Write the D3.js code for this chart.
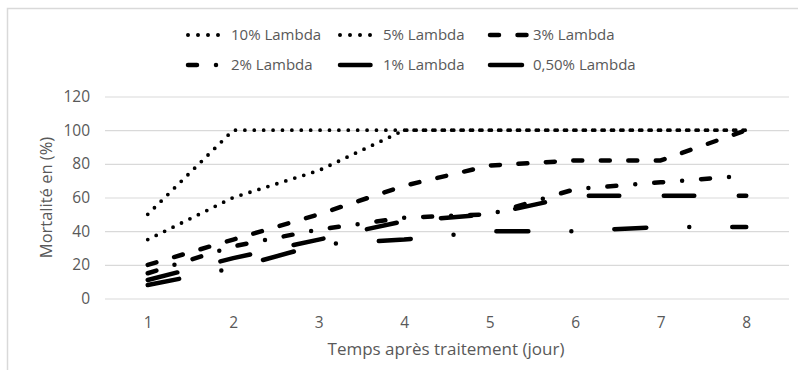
<!DOCTYPE html>
<html lang="fr">
<head>
<meta charset="utf-8">
<script src="https://cdn.jsdelivr.net/npm/d3@7"></script>
<style>
  html, body { margin: 0; padding: 0; background: #fff; }
  svg { display: block; font-family: "Open Sans", "Noto Sans", sans-serif; }
  .tick text { fill: #595959; }
</style>
</head>
<body>
<svg id="chart" width="798" height="370"></svg>
<script>
// Jours après traitement
const days = [1, 2, 3, 4, 5, 6, 7, 8];

// Mortalité (%) par concentration
const lambda10 = [50, 100, 100, 100, 100, 100, 100, 100];
const lambda5  = [35, 60, 76, 100, 100, 100, 100, 100];
const lambda3  = [20, 35, 50, 67, 79, 82, 82, 100];
const lambda2  = [15, 31, 41, 48, 50, 65, 69, 73];
const lambda1  = [11, 24, 35, 46, 50, 61, 61, 61];
const lambda05 = [8, 18, 32, 35, 40, 40, 42.5, 42.5];

const seriesNames = ["10% Lambda", "5% Lambda", "3% Lambda", "2% Lambda", "1% Lambda", "0,50% Lambda"];
const seriesValues = [lambda10, lambda5, lambda3, lambda2, lambda1, lambda05];

const yTicks = [0, 20, 40, 60, 80, 100, 120];
const xTitle = "Temps après traitement (jour)";
const yTitle = "Mortalité en (%)";

// Trait de chaque série : épaisseur et pointillés
const strokeStyles = [
  { width: 3.8, dash: "0 9.4" },          // pointillé rond
  { width: 3.8, dash: "0 9.4" },          // pointillé rond
  { width: 4.5, dash: "9 18.5" },         // tiret
  { width: 4.5, dash: "9 19 0 19" },      // tiret-point
  { width: 4.5, dash: "30.5 44.5" },      // tiret long
  { width: 4.5, dash: "32 43 0 43" }      // tiret long-point
];

const svg = d3.select("#chart");
const W = 798, H = 370;
const plot = { left: 105, right: 789, top: 96.5, bottom: 298.5 };

// Cadre de la zone du graphique
svg.append("path")
  .attr("d", `M7.5,${H} V8.5 H${W}`)
  .attr("fill", "none")
  .attr("stroke", "#d9d9d9")
  .attr("stroke-width", 1.5);

const x = d3.scalePoint().domain(days).range([plot.left, plot.right]).padding(0.5);
const y = d3.scaleLinear().domain([0, 120]).range([plot.bottom, plot.top]);

// Quadrillage horizontal
svg.append("g")
  .attr("transform", `translate(${plot.left},0)`)
  .call(d3.axisLeft(y).tickValues(yTicks).tickSize(-(plot.right - plot.left)).tickFormat(""))
  .call(g => g.select(".domain").remove())
  .call(g => g.selectAll(".tick line").attr("stroke", "#d9d9d9").attr("stroke-width", 1.2));

// Étiquettes de l'axe des ordonnées
svg.append("g")
  .attr("transform", `translate(${plot.left - 15},0)`)
  .call(d3.axisLeft(y).tickValues(yTicks).tickSize(0).tickPadding(0))
  .call(g => g.select(".domain").remove())
  .call(g => g.selectAll(".tick text").attr("font-size", 15.5).attr("font-family", "Open Sans"));

// Étiquettes de l'axe des abscisses
svg.append("g")
  .attr("transform", `translate(0,${plot.bottom})`)
  .call(d3.axisBottom(x).tickSize(0).tickPadding(0))
  .call(g => g.select(".domain").remove())
  .call(g => g.selectAll(".tick text")
    .attr("font-size", 15.5).attr("font-family", "Open Sans")
    .attr("dy", null).attr("y", 29));

// Titres des axes
svg.append("text")
  .attr("x", 446)
  .attr("y", 355)
  .attr("text-anchor", "middle")
  .attr("fill", "#595959")
  .attr("font-size", 17)
  .text(xTitle);

svg.append("text")
  .attr("transform", `translate(52,${(plot.top + plot.bottom) / 2}) rotate(-90)`)
  .attr("text-anchor", "middle")
  .attr("fill", "#595959")
  .attr("font-size", 16.5)
  .text(yTitle);

// Courbes
const line = d3.line()
  .x((d, i) => x(days[i]))
  .y(d => y(d));

svg.append("g")
  .selectAll("path")
  .data(seriesValues)
  .join("path")
  .attr("d", line)
  .attr("fill", "none")
  .attr("stroke", "#000")
  .attr("stroke-width", (d, i) => strokeStyles[i].width)
  .attr("stroke-dasharray", (d, i) => strokeStyles[i].dash)
  .attr("stroke-linecap", "round")
  .attr("stroke-linejoin", "round");

// Légende : deux rangées de trois
const legendCols = [188, 340, 490];
const legendRows = [35, 65];
const legend = svg.append("g")
  .selectAll("g")
  .data(seriesNames)
  .join("g")
  .attr("transform", (d, i) => `translate(${legendCols[i % 3]},${legendRows[Math.floor(i / 3)]})`);

legend.append("line")
  .attr("x1", 0).attr("x2", (d, i) => (i < 2 ? 31 : 38))
  .attr("y1", 0).attr("y2", 0)
  .attr("stroke", "#000")
  .attr("stroke-width", (d, i) => (i < 2 ? 4 : strokeStyles[i].width))
  .attr("stroke-dasharray", (d, i) => (i < 2 ? "0 10" : strokeStyles[i].dash))
  .attr("stroke-linecap", "round");

legend.append("text")
  .attr("x", 43)
  .attr("y", 0)
  .attr("dy", "0.35em")
  .attr("fill", "#595959")
  .attr("font-size", 15)
  .text(d => d);
</script>
</body>
</html>
